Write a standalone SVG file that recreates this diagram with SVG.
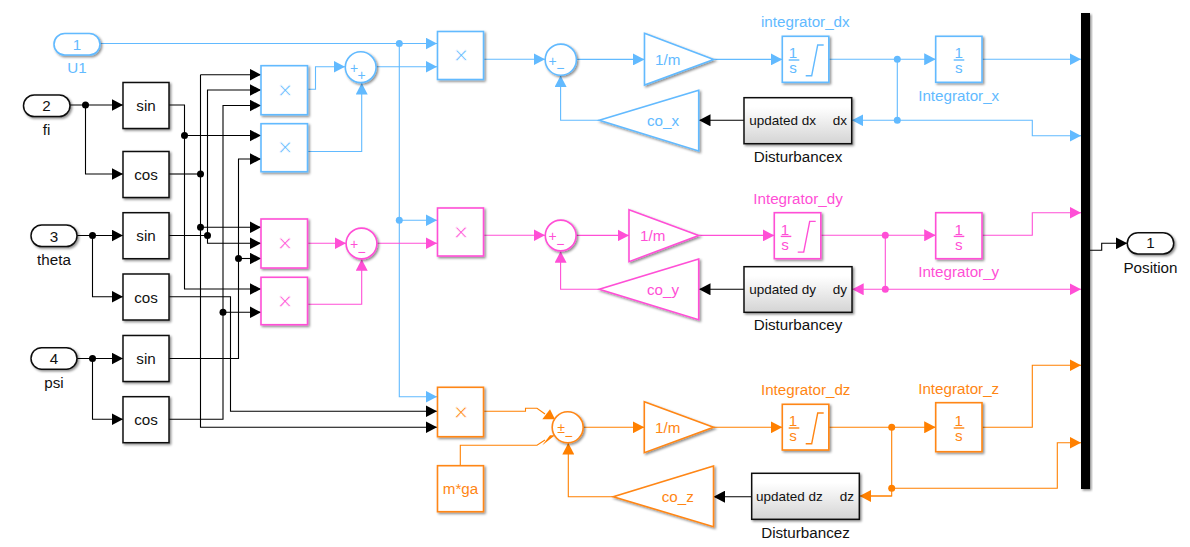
<svg xmlns="http://www.w3.org/2000/svg" width="1190" height="547" viewBox="0 0 1190 547">
<style>
text{font-family:"Liberation Sans",Arial,sans-serif;font-size:15.2px;text-anchor:middle;fill:#111}
.s{text-anchor:start;font-size:13.5px}.e{text-anchor:end;font-size:13.5px}
text.x{font-size:25px;stroke:#fff;stroke-width:.7}.g{font-size:14px}
.b text{fill:#62baff}.m text{fill:#ff4fd6}.o text{fill:#ff8614}
.b .sh{fill:#fff;stroke:#62baff;stroke-width:1.6}.m .sh{fill:#fff;stroke:#ff4fd6;stroke-width:1.6}.o .sh{fill:#fff;stroke:#ff8614;stroke-width:1.6}
.k .sh{fill:#fff;stroke:#111;stroke-width:1.5}
.sh{filter:url(#ds)}
.dist{fill:url(#gr)!important}
.bar{stroke-width:1.4;fill:none}
.b .bar{stroke:#62baff}.m .bar{stroke:#ff4fd6}.o .bar{stroke:#ff8614}
#connectors path{fill:none;stroke-width:1.1}
.lb path{stroke:#62baff;}.lm path{stroke:#ff4fd6}.lo path{stroke:#ff8000}.lk path{stroke:#000}
.lb path.a{marker-end:url(#ab)}.lm path.a{marker-end:url(#am)}.lo path.a{marker-end:url(#ao)}.lk path.a{marker-end:url(#ak)}
.lb circle,.lb polygon{fill:#62baff}.lm circle{fill:#ff4fd6}.lo circle,.lo polygon{fill:#ff8000}.lk circle{fill:#000}
</style>
<defs>
<filter id="ds" x="-20%" y="-20%" width="150%" height="150%"><feDropShadow dx="1.5" dy="1.5" stdDeviation="1.3" flood-color="#000" flood-opacity="0.45"/></filter>
<linearGradient id="gr" x1="0" y1="0" x2="0" y2="1"><stop offset="0.2" stop-color="#fff"/><stop offset="1" stop-color="#d4d4d4"/></linearGradient>
<marker id="ak" markerUnits="userSpaceOnUse" markerWidth="12" markerHeight="12" refX="11.5" refY="6" orient="auto"><path d="M0 0L11.5 6L0 12z" fill="#000"/></marker>
<marker id="ab" markerUnits="userSpaceOnUse" markerWidth="12" markerHeight="12" refX="11.5" refY="6" orient="auto"><path d="M0 0L11.5 6L0 12z" fill="#62baff"/></marker>
<marker id="am" markerUnits="userSpaceOnUse" markerWidth="12" markerHeight="12" refX="11.5" refY="6" orient="auto"><path d="M0 0L11.5 6L0 12z" fill="#ff4fd6"/></marker>
<marker id="ao" markerUnits="userSpaceOnUse" markerWidth="12" markerHeight="12" refX="11.5" refY="6" orient="auto"><path d="M0 0L11.5 6L0 12z" fill="#ff8000"/></marker>
</defs>
<rect width="1190" height="547" fill="#fff"/>
<g id="connectors">
<g class="lk">
<path class="a" d="M70 105H123"/><path class="a" d="M85.5 105V174H123"/>
<path class="a" d="M77 235.5H123"/><path class="a" d="M92.5 235.5V296.7H123"/>
<path class="a" d="M77 358.5H123"/><path class="a" d="M92.5 358.5V419.3H123"/>
<path class="a" d="M169 105H184.5V289H261"/><path class="a" d="M184.5 135.5H261"/>
<path d="M169 174H200.5"/>
<path class="a" d="M200.5 74.7H261"/><path class="a" d="M200.5 74.7V427.3H437"/><path class="a" d="M200.5 227.3H261"/>
<path class="a" d="M169 235.5H207.5V90H261"/><path class="a" d="M207.5 235.5V243.3H261"/>
<path class="a" d="M169 419.3H223V105.5H261"/><path class="a" d="M223 312.3H261"/>
<path class="a" d="M169 358.5H238.5V159H261"/><path class="a" d="M238.5 258.5H261"/>
<path class="a" d="M169 296.7H230.5V411.3H437"/>
<path class="a" d="M744 120.3H699"/><path class="a" d="M744 289.3H699"/><path class="a" d="M751.7 496.7H713.5"/>
<path class="a" d="M1090 250.3H1101.7V243.3H1127.3"/>
<circle cx="85.5" cy="105" r="3.5"/><circle cx="92.5" cy="235.5" r="3.5"/><circle cx="92.5" cy="358.5" r="3.5"/>
<circle cx="184.5" cy="135.5" r="3.5"/><circle cx="200.5" cy="174" r="3.5"/><circle cx="200.5" cy="227.3" r="3.5"/><circle cx="207.5" cy="235.5" r="3.5"/><circle cx="238.5" cy="258.5" r="3.5"/><circle cx="223" cy="312.3" r="3.5"/>
</g>
<g class="lb">
<path class="a" d="M100 43.5H437"/><path class="a" d="M399.3 43.5V396.7H437"/><path class="a" d="M399.3 220.3H437"/>
<path class="a" d="M376.3 66.8H437"/>
<path class="a" d="M307.7 89.3H315.5V66.8H345"/><path class="a" d="M308 151.5H361.7V83"/>
<path class="a" d="M483.7 59.3H545"/><path class="a" d="M576.5 59.4H644.5"/><path class="a" d="M713.7 59.4H782.3"/>
<path class="a" d="M829 59.3H935.7"/><path class="a" d="M982 59.3H1081"/>
<path d="M897.3 59.3V120.3"/><path class="a" d="M897.3 120.3H851.9"/><path class="a" d="M897.3 120.3H1032.3V135.7H1081"/>
<path class="a" d="M599.3 120.3H560.6V75.5"/>
<circle cx="399.3" cy="43.5" r="3.5"/><circle cx="399.3" cy="220.3" r="3.5"/><circle cx="897.3" cy="59.3" r="3.5"/><circle cx="897.3" cy="120.3" r="3.5"/>
</g>
<g class="lm">
<path class="a" d="M307.7 243.3H346"/><path class="a" d="M308 304.3H361.7V259.3"/><path class="a" d="M377 243.3H437"/>
<path class="a" d="M483.7 235.3H545"/><path class="a" d="M576 235.4H629"/><path class="a" d="M698.7 235.4H774.3"/>
<path class="a" d="M821 235.3H935.7"/><path class="a" d="M982 235.3H1032.3V212.7H1081"/>
<path d="M885.3 235.3V289.3"/><path class="a" d="M885.3 289.3H852.2"/><path class="a" d="M885.3 289.3H1081"/>
<path class="a" d="M599.3 289.3H560.6V251.3"/>
<circle cx="885.3" cy="235.3" r="3.5"/><circle cx="885.3" cy="289.3" r="3.5"/>
</g>
<g class="lo">
<path d="M483.7 411.3H525.5V408.3H537L545 414"/>
<polygon points="550,409.3 542.3,419.3 555,419.3"/>
<path d="M460.3 465.7V445.3H537L545 440"/>
<polygon points="542.3,445.3 550,435.3 555,435.3"/>
<path class="a" d="M583.5 427.3H644.3"/><path class="a" d="M713.5 427.3H782.3"/>
<path class="a" d="M829 427.3H935.7"/><path class="a" d="M982 427.3H1032.3V365.3H1081"/>
<path d="M891.7 427.3V496H871"/><path class="a" d="M891.7 496H859.6"/><path class="a" d="M891.7 488.3H1057.3V442.7H1081"/>
<path class="a" d="M613.3 496.7H568.3V443"/>
<circle cx="891.7" cy="427.3" r="3.5"/><circle cx="891.7" cy="488.3" r="3.5"/>
</g>
</g>

<g id="in1" class="b"><rect class="sh" x="54" y="33.5" width="46" height="21.5" rx="10.7"/><text x="77" y="50">1</text><text x="77" y="72.7">U1</text></g>
<g id="in2" class="k"><rect class="sh" x="23.5" y="95" width="46.5" height="21.5" rx="10.7"/><text x="46.5" y="110.7">2</text><text x="46.5" y="135">fi</text></g>
<g id="in3" class="k"><rect class="sh" x="31" y="225" width="46" height="21.5" rx="10.7"/><text x="54" y="242">3</text><text x="54" y="265">theta</text></g>
<g id="in4" class="k"><rect class="sh" x="31" y="347.7" width="46" height="21.5" rx="10.7"/><text x="54" y="364">4</text><text x="54" y="388">psi</text></g>

<g id="sin1" class="k"><rect class="sh" x="123" y="82.5" width="46" height="46"/><text x="146" y="110.7">sin</text></g>
<g id="cos1" class="k"><rect class="sh" x="123" y="151.5" width="46" height="46"/><text x="146" y="180">cos</text></g>
<g id="sin2" class="k"><rect class="sh" x="123" y="212.7" width="46" height="46"/><text x="146" y="240.7">sin</text></g>
<g id="cos2" class="k"><rect class="sh" x="123" y="274" width="46" height="46"/><text x="146" y="303.3">cos</text></g>
<g id="sin3" class="k"><rect class="sh" x="123" y="335.5" width="46" height="46"/><text x="146" y="364">sin</text></g>
<g id="cos3" class="k"><rect class="sh" x="123" y="396.7" width="46" height="46"/><text x="146" y="425.3">cos</text></g>

<g id="prodx1" class="b"><rect class="sh" x="261" y="65.7" width="46.5" height="49"/><text class="x" x="285" y="99">×</text></g>
<g id="prodx2" class="b"><rect class="sh" x="261" y="123.7" width="46.5" height="48"/><text class="x" x="285" y="156">×</text></g>
<g id="prody1" class="m"><rect class="sh" x="261" y="219" width="46.5" height="49"/><text class="x" x="285" y="252">×</text></g>
<g id="prody2" class="m"><rect class="sh" x="261" y="277.3" width="46.5" height="47.4"/><text class="x" x="285" y="309.5">×</text></g>
<g id="prodx3" class="b"><rect class="sh" x="437.5" y="31.5" width="46" height="48"/><text class="x" x="461" y="64">×</text></g>
<g id="prody3" class="m"><rect class="sh" x="437.5" y="208" width="46" height="48"/><text class="x" x="461" y="241">×</text></g>
<g id="prodz" class="o"><rect class="sh" x="437.5" y="387.3" width="46" height="49.4"/><text class="x" x="461" y="421">×</text></g>
<g id="mga" class="o"><rect class="sh" x="437.5" y="465.7" width="46" height="46"/><text x="460.5" y="494">m*ga</text></g>

<g id="sumx1" class="b"><circle class="sh" cx="360.7" cy="67.2" r="15.4"/><text class="g" x="354" y="72.5">+</text><text class="g" x="361.7" y="80">+</text></g>
<g id="sumy1" class="m"><circle class="sh" cx="361.5" cy="243.5" r="15.4"/><text class="g" x="354" y="249">+</text><text class="g" x="361.7" y="256.5">−</text></g>
<g id="sumx2" class="b"><circle class="sh" cx="560.8" cy="59.7" r="15.6"/><text class="g" x="552.7" y="65.6">+</text><text class="g" x="560.3" y="73">−</text></g>
<g id="sumy2" class="m"><circle class="sh" cx="560.7" cy="235.5" r="15.4"/><text class="g" x="552.7" y="241">+</text><text class="g" x="560.3" y="248.5">−</text></g>
<g id="sumz" class="o"><circle class="sh" cx="567.7" cy="427.3" r="15.5"/><text class="g" x="561" y="433">±</text><text class="g" x="568.5" y="441">−</text></g>

<g id="gainx" class="b"><polygon class="sh" points="644.5,33.3 713.7,59.4 644.5,85"/><text x="667.7" y="65">1/m</text></g>
<g id="gainy" class="m"><polygon class="sh" points="629,209.7 698.7,235.4 629,261.7"/><text x="652.7" y="241">1/m</text></g>
<g id="gainz" class="o"><polygon class="sh" points="644.3,401.7 713.5,427.3 644.3,452.7"/><text x="667.7" y="432.7">1/m</text></g>
<g id="cox" class="b"><polygon class="sh" points="698.7,90.3 599.3,120.3 698.7,151"/><text x="663" y="126.2">co_x</text></g>
<g id="coy" class="m"><polygon class="sh" points="698.7,259 599.3,289.3 698.7,319.7"/><text x="663" y="295">co_y</text></g>
<g id="coz" class="o"><polygon class="sh" points="713.5,466 613.3,496.7 713.5,526.7"/><text x="677.7" y="502">co_z</text></g>

<g id="intdx" class="b"><rect class="sh" x="782.3" y="36.3" width="46.5" height="46"/><text x="793" y="58">1</text><path class="bar" d="M788.7 60H799.3"/><text x="793" y="73.3">s</text><path class="bar" d="M805.7 75.7H811.7L817.7 45H823.7"/><text x="805.3" y="26.7">integrator_dx</text></g>
<g id="intdy" class="m"><rect class="sh" x="774.3" y="212.7" width="46.5" height="46"/><text x="785" y="234.5">1</text><path class="bar" d="M780.7 236.4H791.3"/><text x="785" y="249.7">s</text><path class="bar" d="M797.7 252.1H803.7L809.7 221.4H815.7"/><text x="798" y="204.3">Integrator_dy</text></g>
<g id="intdz" class="o"><rect class="sh" x="782.3" y="404.3" width="46.5" height="45.7"/><text x="793" y="426">1</text><path class="bar" d="M788.7 428H799.3"/><text x="793" y="441.3">s</text><path class="bar" d="M805.7 443.7H811.7L817.7 413H823.7"/><text x="805.7" y="395">Integrator_dz</text></g>
<g id="intx" class="b"><rect class="sh" x="935.7" y="36.3" width="46.3" height="46"/><text x="958.7" y="58">1</text><path class="bar" d="M953.7 60H964.3"/><text x="958.7" y="73.3">s</text><text x="958.7" y="101">Integrator_x</text></g>
<g id="inty" class="m"><rect class="sh" x="935.7" y="212.7" width="46.3" height="46"/><text x="958.7" y="234.5">1</text><path class="bar" d="M953.7 236.4H964.3"/><text x="958.7" y="249.7">s</text><text x="958.7" y="276.7">Integrator_y</text></g>
<g id="intz" class="o"><rect class="sh" x="935.7" y="402.7" width="46.3" height="49"/><text x="958.7" y="426">1</text><path class="bar" d="M953.7 428H964.3"/><text x="958.7" y="441.3">s</text><text x="958.7" y="394">Integrator_z</text></g>

<g id="distx" class="k"><rect class="sh dist" x="744" y="97.7" width="107.7" height="46"/><text class="s" x="749.3" y="125">updated dx</text><text class="e" x="847" y="125">dx</text><text x="798" y="161.7">Disturbancex</text></g>
<g id="disty" class="k"><rect class="sh dist" x="744" y="266.7" width="108" height="45.6"/><text class="s" x="749.3" y="294">updated dy</text><text class="e" x="847" y="294">dy</text><text x="798" y="330">Disturbancey</text></g>
<g id="distz" class="k"><rect class="sh dist" x="751.7" y="473.3" width="107.6" height="46"/><text class="s" x="756" y="500.7">updated dz</text><text class="e" x="854" y="500.7">dz</text><text x="805.5" y="537.7">Disturbancez</text></g>

<g id="mux"><rect x="1081" y="13" width="9" height="476" fill="#000" filter="url(#ds)"/></g>
<g id="out1" class="k"><rect class="sh" x="1127.3" y="232.7" width="46.4" height="21.3" rx="10.6"/><text x="1150.5" y="248.3">1</text><text x="1150.5" y="272.7">Position</text></g>
</svg>
